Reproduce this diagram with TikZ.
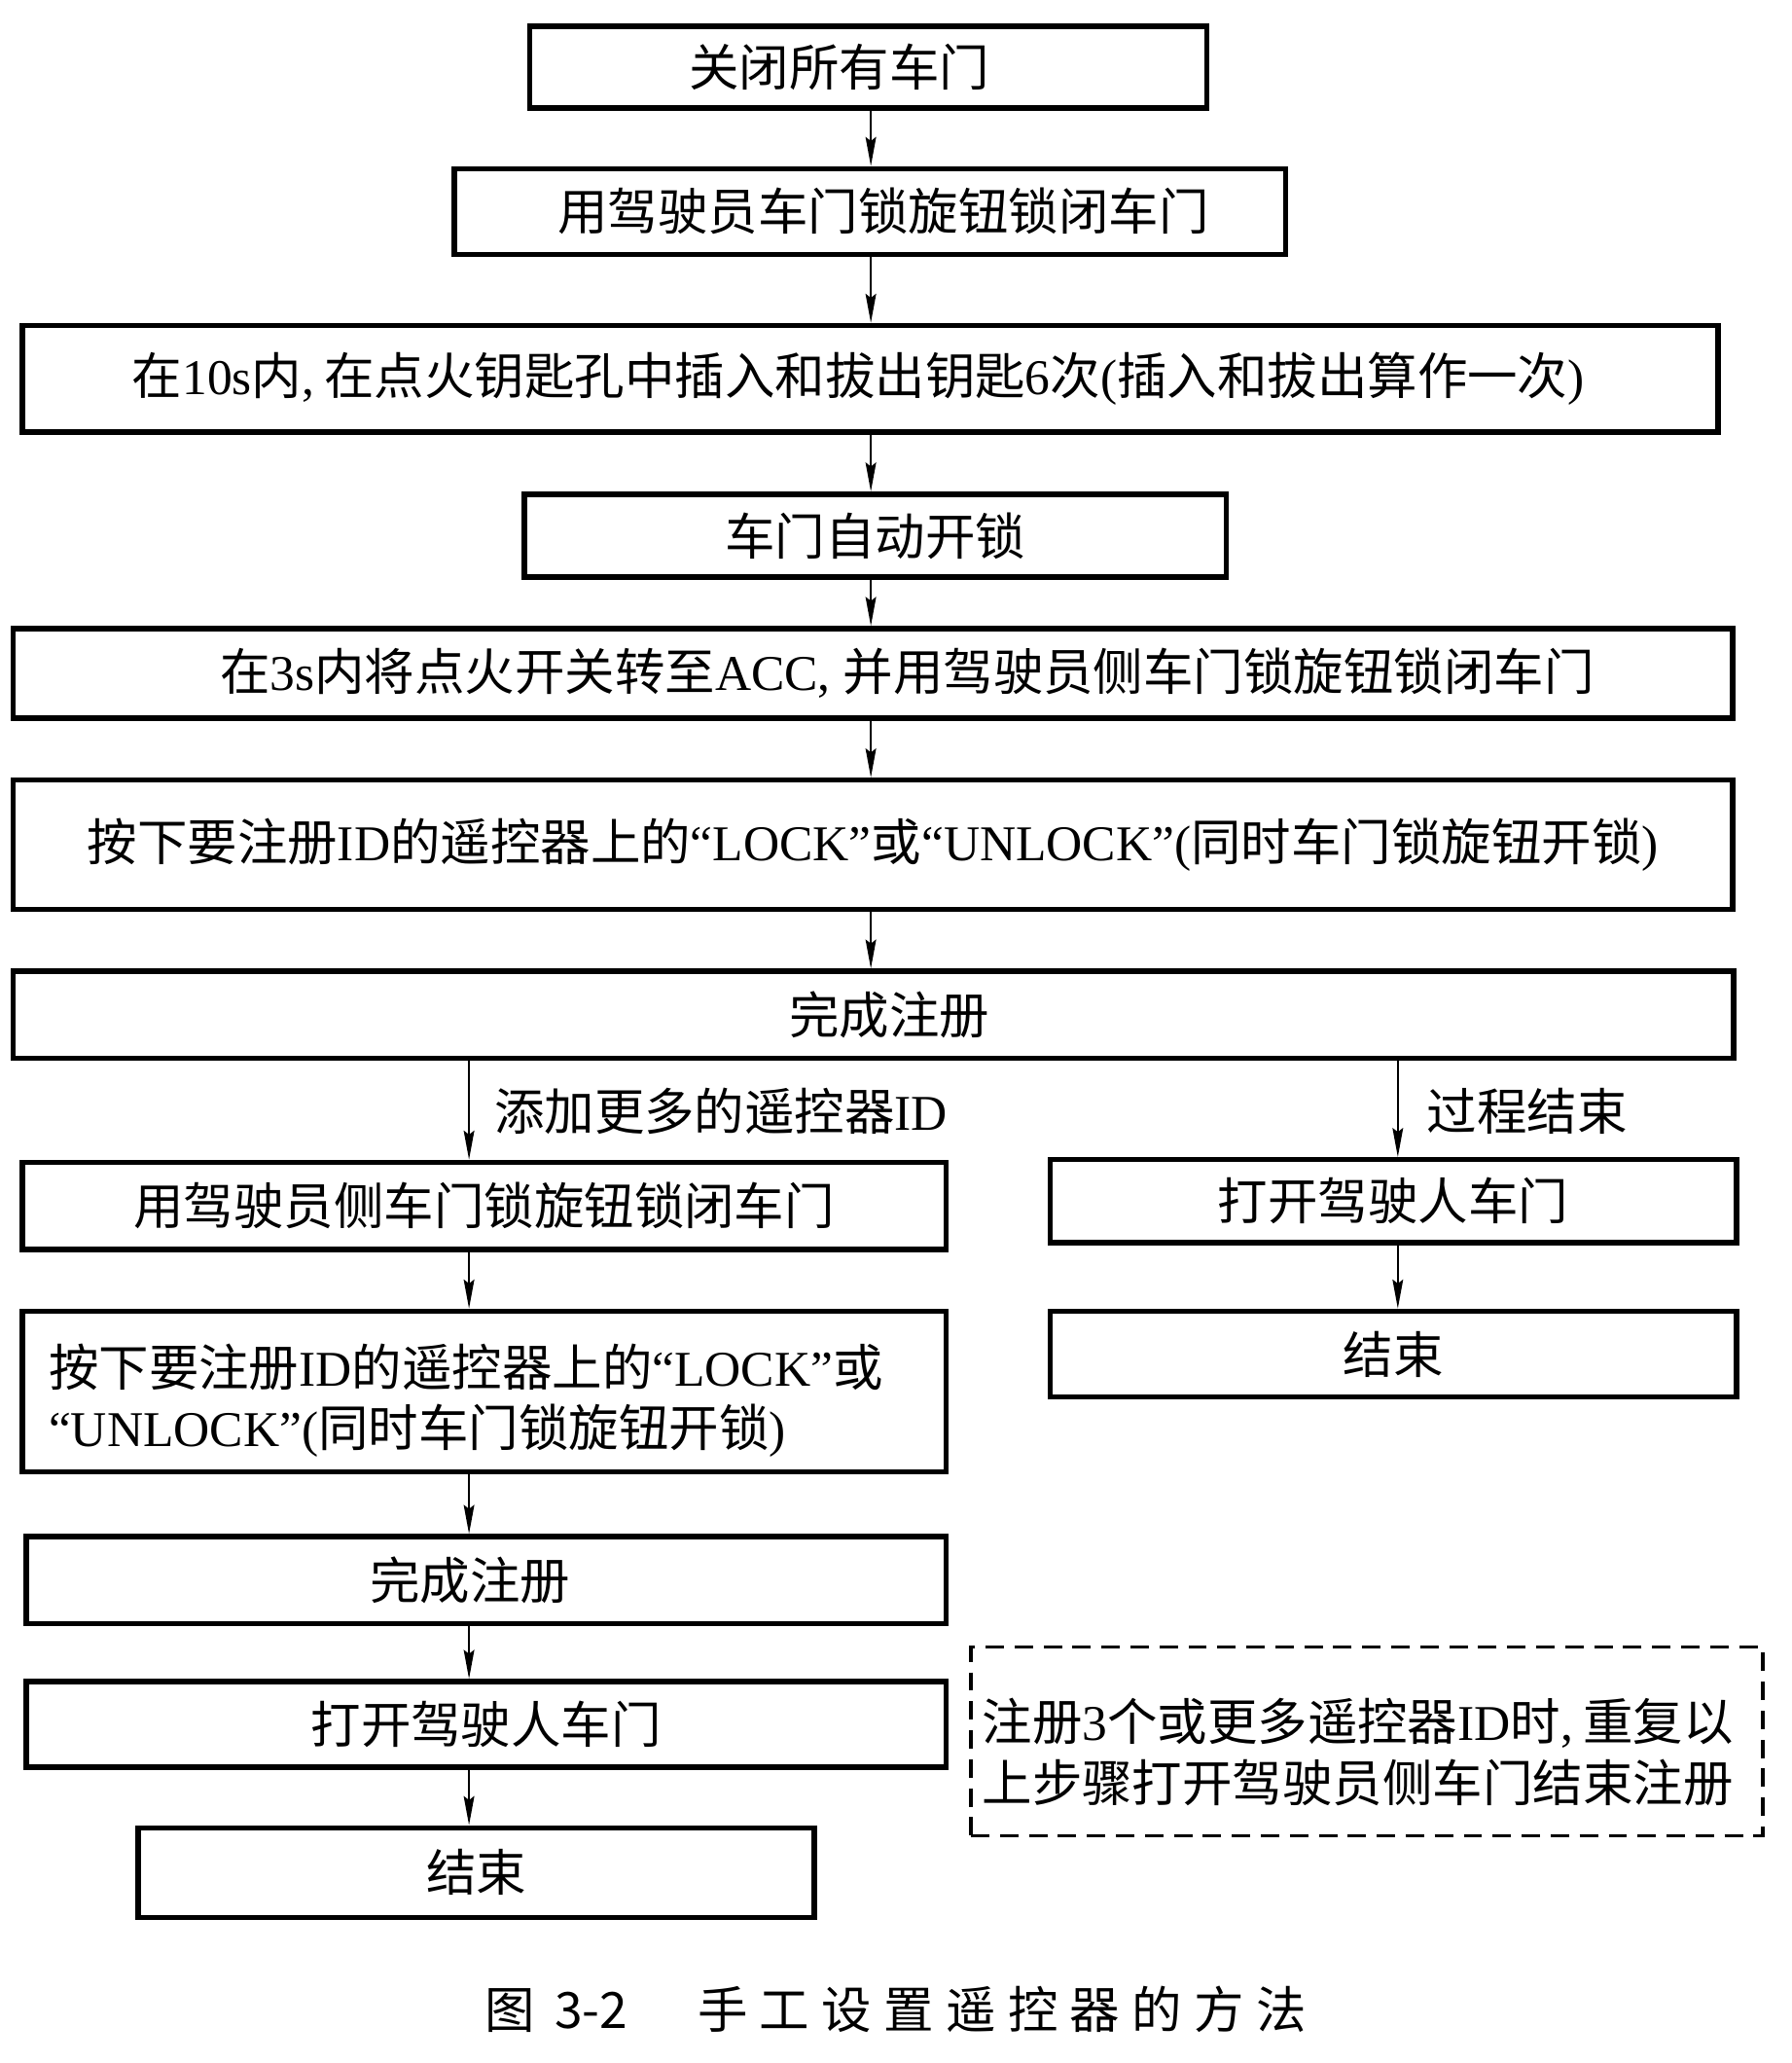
\documentclass[tikz,border=0pt]{standalone}
\usepackage{fontspec}
\setmainfont{Noto Sans CJK SC}
\newfontfamily\latf{Liberation Serif}
\newfontfamily\capf{Noto Sans CJK SC}[LetterSpace=24]
\newcommand\tm[1]{{\latf #1}}
\newcommand\hc{\tm{,}\hspace{0.2em}}
\newcommand\sh[1]{\hspace*{#1}}
\usetikzlibrary{arrows.meta}
\begin{document}
\begin{tikzpicture}[x=1pt,y=-1pt,
  every node/.style={font=\fontsize{38pt}{46pt}\selectfont, inner sep=0pt},
  box/.style={draw, line width=4pt, rectangle},
  note/.style={draw, line width=2.5pt, dash pattern=on 14pt off 8pt, rectangle},
  arr/.style={line width=1.7pt, -{Stealth[length=22pt,width=8pt,inset=3pt]}},
  lbl/.style={anchor=west}]
\useasboundingbox[fill=white] (0,0) rectangle (1359.5,1565.5);
% main column
\node[box, minimum width=514pt, minimum height=62pt] (b1) at (659,51) {\sh{-44pt}关闭所有车门};
\node[box, minimum width=631pt, minimum height=65pt] (b2) at (660.5,160.5) {\sh{20pt}用驾驶员车门锁旋钮锁闭车门};
\node[box, minimum width=1287pt, minimum height=81pt] (b3) at (660.5,287.5) {\sh{-18pt}在\tm{10s}内\hc 在点火钥匙孔中插入和拔出钥匙\tm{6}次\tm{(}插入和拔出算作一次\tm{)}};
\node[box, minimum width=533pt, minimum height=63pt] (b4) at (664.5,406.5) {车门自动开锁};
\node[box, minimum width=1305pt, minimum height=68pt] (b5) at (662.5,511) {\sh{52pt}在\tm{3s}内将点火开关转至\tm{ACC, }并用驾驶员侧车门锁旋钮锁闭车门};
\node[box, minimum width=1305pt, minimum height=98pt] (b6) at (662.5,641) {按下要注册\tm{ID}的遥控器上的\tm{“LOCK”}或\tm{“UNLOCK”(}同时车门锁旋钮开锁\tm{)}};
\node[box, minimum width=1306pt, minimum height=66pt] (b7) at (663,770) {\sh{24pt}完成注册};
% left column
\node[box, minimum width=701pt, minimum height=66pt] (l1) at (367.5,915) {用驾驶员侧车门锁旋钮锁闭车门};
\node[box, minimum width=701pt, minimum height=122pt] (l2) at (367.5,1056) {};
\node[text width=661pt, align=left] (l2t) at ([yshift=-7pt]l2.center) {按下要注册\tm{ID}的遥控器上的\tm{“LOCK”}或\\\tm{“UNLOCK”(}同时车门锁旋钮开锁\tm{)}};
\node[box, minimum width=698pt, minimum height=66pt] (l3) at (369,1199) {\sh{-24pt}完成注册};
\node[box, minimum width=698pt, minimum height=65pt] (l4) at (369,1308.5) {打开驾驶人车门};
\node[box, minimum width=513pt, minimum height=68pt] (l5) at (361.5,1421) {结束};
% right column
\node[box, minimum width=521pt, minimum height=63pt] (r1) at (1057.5,911.5) {打开驾驶人车门};
\node[box, minimum width=521pt, minimum height=65pt] (r2) at (1057.5,1027.5) {结束};
% note
\node[note, minimum width=601pt, minimum height=143pt] (nt) at (1037.5,1321.5) {};
\node[text width=584pt, align=left] (ntt) at ([yshift=-8pt]nt.center) {注册\tm{3}个或更多遥控器\tm{ID}时\hc 重复以\\上步骤打开驾驶员侧车门结束注册};
% branch labels
\node[lbl] (la) at (375,843) {添加更多的遥控器\tm{ID}};
\node[lbl] (lb) at (1083,843) {过程结束};
% caption
\node[lbl] (cap) at (368,1525) {图\hspace{15pt}3-2\hspace{53pt}{\capf 手工设置遥控器的方法}};
% arrow columns
\coordinate (xm) at (661,0);
\coordinate (xl) at (356,0);
\coordinate (xr) at (1061,0);
\draw[arr] (b1.south -| xm) -- (b2.north -| xm);
\draw[arr] (b2.south -| xm) -- (b3.north -| xm);
\draw[arr] (b3.south -| xm) -- (b4.north -| xm);
\draw[arr] (b4.south -| xm) -- (b5.north -| xm);
\draw[arr] (b5.south -| xm) -- (b6.north -| xm);
\draw[arr] (b6.south -| xm) -- (b7.north -| xm);
\draw[arr] (b7.south -| xl) -- (l1.north -| xl);
\draw[arr] (l1.south -| xl) -- (l2.north -| xl);
\draw[arr] (l2.south -| xl) -- (l3.north -| xl);
\draw[arr] (l3.south -| xl) -- (l4.north -| xl);
\draw[arr] (l4.south -| xl) -- (l5.north -| xl);
\draw[arr] (b7.south -| xr) -- (r1.north -| xr);
\draw[arr] (r1.south -| xr) -- (r2.north -| xr);
\end{tikzpicture}
\end{document}
